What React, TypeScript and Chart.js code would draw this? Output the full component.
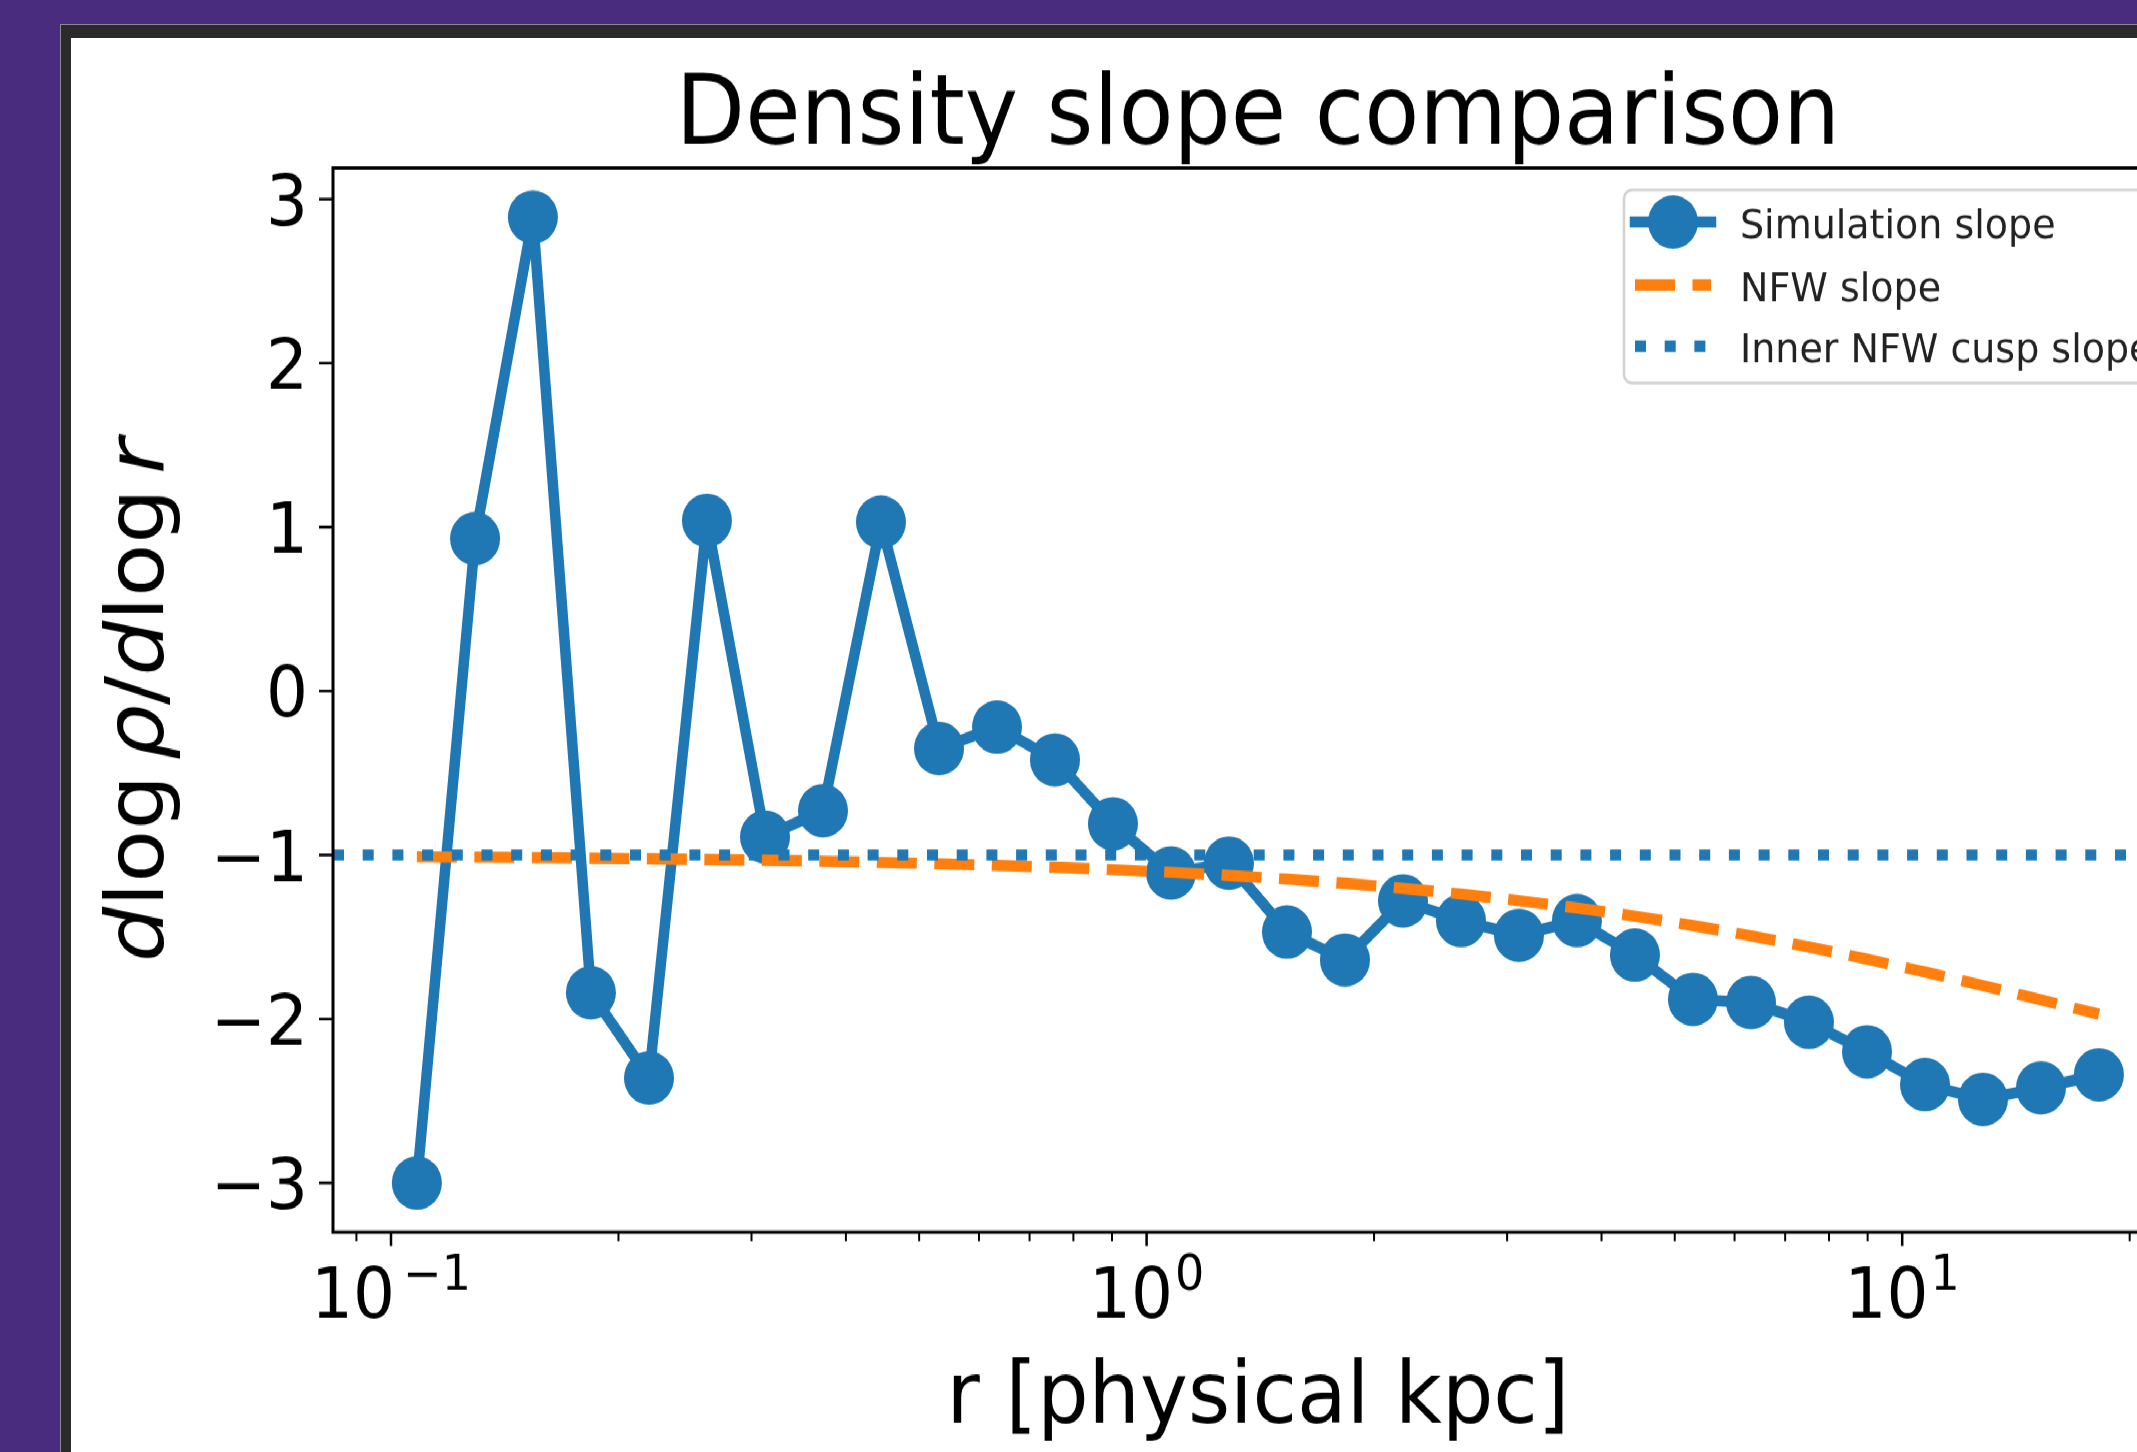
import React, { useEffect, useRef } from 'react';
import { Chart, registerables } from 'chart.js';

Chart.register(...registerables);

// ---------------- data ----------------
const RADII_KPC = [
  0.1082, 0.1292, 0.1541, 0.1839, 0.2195, 0.2619, 0.3126, 0.373, 0.4451, 0.5312,
  0.6339, 0.7564, 0.9026, 1.0772, 1.2853, 1.5339, 1.8304, 2.1842, 2.6064, 3.1104,
  3.7115, 4.429, 5.2853, 6.3081, 7.5266, 8.9831, 10.72, 12.791, 15.264, 18.21,
];
const SIM_SLOPE = [
  -3.0, 0.93, 2.89, -1.84, -2.36, 1.04, -0.89, -0.73, 1.03, -0.35,
  -0.22, -0.42, -0.81, -1.11, -1.05, -1.47, -1.64, -1.28, -1.4, -1.49,
  -1.4, -1.61, -1.88, -1.9, -2.02, -2.2, -2.4, -2.49, -2.42, -2.34,
];
const NFW_SLOPE = [
  -1.011, -1.013, -1.016, -1.019, -1.023, -1.027, -1.032, -1.038, -1.045, -1.054,
  -1.064, -1.075, -1.089, -1.106, -1.125, -1.147, -1.173, -1.203, -1.238, -1.278,
  -1.323, -1.373, -1.43, -1.493, -1.561, -1.635, -1.714, -1.797, -1.883, -1.971,
];
const CUSP_SLOPE = -1;
const X_LIMITS = [0.0838, 23.53];
const Y_LIMITS = [-3.3, 3.19];
const Y_TICKS = [-3, -2, -1, 0, 1, 2, 3];
const X_MAJOR_TICKS = [0.1, 1, 10];
const X_MAJOR_EXPONENTS = ['−1', '0', '1'];
const X_MINOR_TICKS = [0.09, 0.2, 0.3, 0.4, 0.5, 0.6, 0.7, 0.8, 0.9, 2, 3, 4, 5, 6, 7, 8, 9, 20];
const TITLE = 'Density slope comparison';
const X_LABEL = 'r [physical kpc]';
const Y_LABEL_PARTS: [string, string][] = [
  ['d', 'it'], ['log', 'rm'], [' ', 'sp'], ['ρ', 'it'], ['/', 'rm'],
  ['d', 'it'], ['log', 'rm'], [' ', 'sp'], ['r', 'it'],
];
const LEGEND_LABELS = ['Simulation slope', 'NFW slope', 'Inner NFW cusp slope'];

// ---------------- style / layout ----------------
const BLUE = '#1f77b4';
const ORANGE = '#ff7f0e';
const FONT = '"DejaVu Sans", "Liberation Sans", sans-serif';
const PAGE_W = 2137;
const PAGE_H = 1452;
const STRETCH = 1.07;
const CANVAS_LEFT = 71;
const CANVAS_TOP = 38;
const CANVAS_W = 2260;
const CANVAS_H = 1322;
const PAD = { left: 262, top: 121.5, right: CANVAS_W - 2112, bottom: CANVAS_H - 1116 };
const TICK_FS = 66;
const SUP_FS = 46;
const LABEL_FS = 81;
const TITLE_FS = 90;
const LEGEND_FS = 38;
const LINE_W = 10.5;
const MARKER_R = 25;

function line(ctx: CanvasRenderingContext2D, x0: number, y0: number, x1: number, y1: number) {
  ctx.beginPath();
  ctx.moveTo(x0, y0);
  ctx.lineTo(x1, y1);
  ctx.stroke();
}

const mplPlugin = {
  id: 'mplDecor',
  afterDatasetsDraw(chart: any) {
    const ctx: CanvasRenderingContext2D = chart.ctx;
    const xs = chart.scales.x;
    const ys = chart.scales.y;
    const { left, right, top, bottom } = chart.chartArea;
    ctx.save();
    ctx.fillStyle = '#000';
    ctx.strokeStyle = '#000';
    ctx.setLineDash([]);

    // spines
    ctx.lineWidth = 3;
    ctx.strokeRect(left, top, right - left, bottom - top);

    // y ticks + labels
    ctx.lineWidth = 2.5;
    ctx.font = `${TICK_FS}px ${FONT}`;
    ctx.textAlign = 'right';
    ctx.textBaseline = 'alphabetic';
    Y_TICKS.forEach((v) => {
      const y = ys.getPixelForValue(v);
      line(ctx, left - 14, y, left, y);
      const lbl = v < 0 ? '−' + Math.abs(v) : String(v);
      ctx.fillText(lbl, left - 25, y + 0.3645 * TICK_FS);
    });

    // x minor ticks
    ctx.lineWidth = 2;
    X_MINOR_TICKS.forEach((v) => {
      const x = xs.getPixelForValue(v);
      if (x < left - 1 || x > right + 1) return;
      line(ctx, x, bottom, x, bottom + 8.5);
    });
    // x major ticks + labels
    ctx.lineWidth = 2.5;
    ctx.textAlign = 'left';
    X_MAJOR_TICKS.forEach((v, i) => {
      const x = xs.getPixelForValue(v);
      line(ctx, x, bottom, x, bottom + 13);
      ctx.font = `${TICK_FS}px ${FONT}`;
      const wb = ctx.measureText('10').width;
      const exp = X_MAJOR_EXPONENTS[i];
      ctx.font = `${SUP_FS}px ${FONT}`;
      const ws = ctx.measureText(exp).width;
      const gap = exp.startsWith('−') ? 8 : 2;
      const x0 = x - (wb + gap + ws) / 2;
      ctx.font = `${TICK_FS}px ${FONT}`;
      ctx.fillText('10', x0, bottom + 80);
      ctx.font = `${SUP_FS}px ${FONT}`;
      ctx.fillText(exp, x0 + wb + gap, bottom + 54);
    });

    // title
    ctx.textAlign = 'center';
    ctx.font = `${TITLE_FS}px ${FONT}`;
    ctx.fillText(TITLE, (left + right) / 2, top - 22.5);

    // x label
    ctx.font = `${LABEL_FS}px ${FONT}`;
    ctx.fillText(X_LABEL, (left + right) / 2, bottom + 177.5);

    // y label (mathtext-like)
    ctx.save();
    ctx.translate(left - 170, (top + bottom) / 2);
    ctx.rotate(-Math.PI / 2);
    ctx.textAlign = 'left';
    const fontFor = (k: string) => (k === 'it' ? `italic ${LABEL_FS}px ${FONT}` : `${LABEL_FS}px ${FONT}`);
    const widths = Y_LABEL_PARTS.map(([t, k]) => {
      if (k === 'sp') return 0.17 * LABEL_FS;
      ctx.font = fontFor(k);
      return ctx.measureText(t).width;
    });
    const total = widths.reduce((a, b) => a + b, 0);
    let cx = -total / 2;
    Y_LABEL_PARTS.forEach(([t, k], i) => {
      if (k !== 'sp') {
        ctx.font = fontFor(k);
        ctx.fillText(t, cx, 0);
      }
      cx += widths[i];
    });
    ctx.restore();

    // legend
    const bx = 1553;
    const by = 142;
    const bh = 180.4;
    ctx.font = `${LEGEND_FS}px ${FONT}`;
    const textX = 1669;
    const maxW = Math.max(...LEGEND_LABELS.map((s) => ctx.measureText(s).width));
    const bw = textX + maxW + 16 - bx;
    ctx.beginPath();
    (ctx as any).roundRect(bx, by, bw, bh, 8);
    ctx.fillStyle = 'rgba(255,255,255,0.8)';
    ctx.fill();
    ctx.strokeStyle = '#d2d2d2';
    ctx.lineWidth = 2.5;
    ctx.stroke();

    const rows = [172, 230.8, 287.9];
    const hx0 = 1564;
    const hx1 = 1640;
    // simulation handle
    ctx.strokeStyle = BLUE;
    ctx.lineWidth = LINE_W;
    ctx.lineCap = 'square';
    line(ctx, hx0, rows[0], hx1, rows[0]);
    ctx.fillStyle = BLUE;
    ctx.beginPath();
    ctx.arc((hx0 + hx1) / 2, rows[0], MARKER_R, 0, Math.PI * 2);
    ctx.fill();
    // NFW handle
    ctx.lineCap = 'butt';
    ctx.strokeStyle = ORANGE;
    ctx.setLineDash([40, 17.5]);
    line(ctx, hx0, rows[1], hx1, rows[1]);
    // cusp handle
    ctx.strokeStyle = BLUE;
    ctx.setLineDash([11, 18.7]);
    line(ctx, hx0, rows[2], hx1, rows[2]);
    ctx.setLineDash([]);

    ctx.fillStyle = '#222';
    ctx.textAlign = 'left';
    ctx.font = `${LEGEND_FS}px ${FONT}`;
    LEGEND_LABELS.forEach((s, i) => {
      ctx.fillText(s, textX, rows[i] + 14.9);
    });

    ctx.restore();
  },
};

export default function App() {
  const ref = useRef<HTMLCanvasElement>(null);

  useEffect(() => {
    document.body.style.margin = '0';
    const canvas = ref.current;
    if (!canvas) return;
    const chart = new Chart(canvas, {
      type: 'line',
      data: {
        datasets: [
          {
            label: LEGEND_LABELS[0],
            data: RADII_KPC.map((r, i) => ({ x: r, y: SIM_SLOPE[i] })),
            borderColor: BLUE,
            backgroundColor: BLUE,
            borderWidth: LINE_W,
            pointRadius: MARKER_R,
            pointBorderWidth: 0,
            pointBackgroundColor: BLUE,
            borderJoinStyle: 'round',
            tension: 0,
            order: 3,
          },
          {
            label: LEGEND_LABELS[1],
            data: RADII_KPC.map((r, i) => ({ x: r, y: NFW_SLOPE[i] })),
            borderColor: ORANGE,
            borderWidth: LINE_W,
            borderDash: [40, 17.5],
            borderCapStyle: 'butt',
            borderJoinStyle: 'round',
            pointRadius: 0,
            tension: 0,
            order: 2,
          },
          {
            label: LEGEND_LABELS[2],
            data: [
              { x: X_LIMITS[0], y: CUSP_SLOPE },
              { x: X_LIMITS[1], y: CUSP_SLOPE },
            ],
            borderColor: BLUE,
            borderWidth: LINE_W,
            borderDash: [11, 18.7],
            borderCapStyle: 'butt',
            pointRadius: 0,
            tension: 0,
            order: 1,
          },
        ],
      },
      options: {
        responsive: false,
        animation: false,
        devicePixelRatio: 1,
        events: [],
        layout: { padding: PAD },
        scales: {
          x: { type: 'logarithmic', min: X_LIMITS[0], max: X_LIMITS[1], display: false },
          y: { type: 'linear', min: Y_LIMITS[0], max: Y_LIMITS[1], display: false },
        },
        plugins: {
          legend: { display: false },
          title: { display: false },
          tooltip: { enabled: false },
        },
      } as any,
      plugins: [mplPlugin],
    });
    return () => chart.destroy();
  }, []);

  return (
    <div
      style={{
        position: 'fixed',
        left: 0,
        top: 0,
        width: PAGE_W,
        height: PAGE_H,
        overflow: 'hidden',
        background: '#4a2c7e',
      }}
    >
      <div
        style={{
          position: 'absolute',
          left: 60,
          top: 24,
          width: 2400,
          height: 1600,
          background: '#2b2b2b',
          borderLeft: '1px solid #8a8a8a',
          borderTop: '1px solid #8a8a8a',
          boxSizing: 'border-box',
        }}
      />
      <div
        style={{
          position: 'absolute',
          left: CANVAS_LEFT,
          top: CANVAS_TOP,
          width: CANVAS_W,
          height: CANVAS_H,
          background: '#fff',
          transform: `scaleY(${STRETCH})`,
          transformOrigin: '0 0',
        }}
      >
        <canvas
          ref={ref}
          width={CANVAS_W}
          height={CANVAS_H}
          style={{ display: 'block', width: CANVAS_W, height: CANVAS_H }}
        />
      </div>
    </div>
  );
}
